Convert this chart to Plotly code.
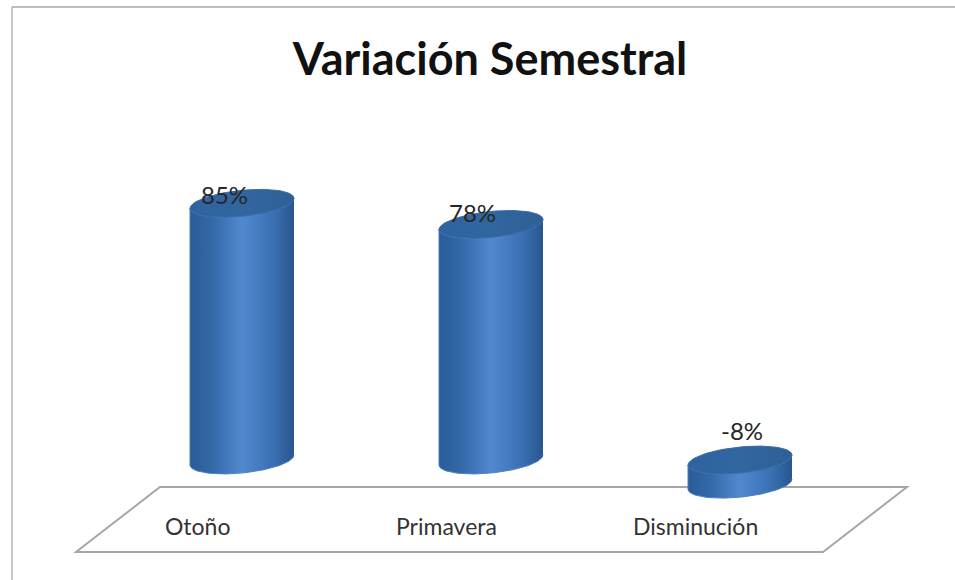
import numpy as np
import plotly.graph_objects as go

categories = ["Otoño", "Primavera", "Disminución"]
values = [85, 78, -8]
value_labels = ["85%", "78%", "-8%"]

W, H = 955, 580
# pixels per category step / per percent point, zero line and first bar position
STEP_PX = 249
PCT_PX = 3.02
ZERO_PX = 460
FIRST_PX = 242

x_range = [-FIRST_PX / STEP_PX, (W - FIRST_PX) / STEP_PX]
y_range = [-(H - ZERO_PX) / PCT_PX, ZERO_PX / PCT_PX]

# ellipse half sizes in axis units
A = 52 / STEP_PX
B = 13 / PCT_PX
TILT = 5 / PCT_PX

BODY_SCALE = [
    [0.0, "#2a5c98"],
    [0.2, "#3268a6"],
    [0.5, "#5288cf"],
    [0.8, "#3a70b2"],
    [1.0, "#27568f"],
]
CAP_SCALE = [[0.0, "#2f639f"], [0.5, "#32669f"], [1.0, "#2f5f97"]]


def ellipse(cx, level, t):
    return cx + A * np.cos(t), level + B * np.sin(t) + TILT * np.cos(t)


fig = go.Figure()

# one cylinder per category, side wall and then the lid
for i, v in enumerate(values):
    top, bottom = max(v, 0), min(v, 0)
    t_front = np.linspace(0, -np.pi, 60)
    bx, by = ellipse(i, bottom, t_front)
    tx, ty = ellipse(i, top, t_front[::-1])
    fig.add_trace(go.Scatter(
        x=np.concatenate([bx, tx]),
        y=np.concatenate([by, ty]),
        mode="lines",
        line=dict(color="#4a7fc0", width=1),
        fill="toself",
        fillgradient=dict(type="horizontal", colorscale=BODY_SCALE),
        hoverinfo="skip",
        showlegend=False,
    ))
    t_all = np.linspace(0, 2 * np.pi, 120)
    cx, cy = ellipse(i, top, t_all)
    fig.add_trace(go.Scatter(
        x=cx,
        y=cy,
        mode="lines",
        line=dict(color="#3a6ca8", width=1),
        fill="toself",
        fillgradient=dict(type="horizontal", colorscale=CAP_SCALE),
        hoverinfo="skip",
        showlegend=False,
    ))


def px_x(p):
    return p / W


def px_y(p):
    return 1 - p / H


# floor
floor = [(160, 487), (907, 487), (823, 552), (76, 552)]
path = "M " + " L ".join(f"{px_x(a):.4f},{px_y(b):.4f}" for a, b in floor) + " Z"
fig.add_shape(type="path", path=path, xref="paper", yref="paper", layer="below",
              line=dict(color="#a6a6a6", width=2), fillcolor="white")

# frame, top and left only
fig.add_shape(type="line", xref="paper", yref="paper", x0=px_x(12), x1=1,
              y0=px_y(7), y1=px_y(7), line=dict(color="#a9a9a9", width=1.5))
fig.add_shape(type="line", xref="paper", yref="paper", x0=px_x(12), x1=px_x(12),
              y0=px_y(7), y1=0, line=dict(color="#b5b5b5", width=1.5))

# category names lying on the floor
for i, name in enumerate(categories):
    fig.add_annotation(
        x=i, y=-22, text=name, showarrow=False, xshift=-45,
        font=dict(family="Lato", size=23, color="#333333"),
    )

# value labels
label_shift = [(-18, 9), (-19, 12), (2, 54)]
for i, v in enumerate(values):
    fig.add_annotation(
        x=i, y=v, text=value_labels[i], showarrow=False,
        xshift=label_shift[i][0], yshift=label_shift[i][1],
        font=dict(family="Lato", size=24, color="#262626"),
    )

fig.update_layout(
    width=W,
    height=H,
    margin=dict(l=0, r=0, t=0, b=0),
    paper_bgcolor="white",
    plot_bgcolor="rgba(0,0,0,0)",
    showlegend=False,
    title=dict(
        text="<b>Variación Semestral</b>",
        x=490 / W,
        xanchor="center",
        y=1 - 59 / H,
        yanchor="middle",
        font=dict(family="Lato", size=45, color="#111111"),
    ),
    xaxis=dict(range=x_range, visible=False, fixedrange=True),
    yaxis=dict(range=y_range, visible=False, fixedrange=True),
)

# no page margin, the figure fills the window
fig.write_html("out.html", config={"displayModeBar": False},
               post_script="document.body.style.margin='0';")
